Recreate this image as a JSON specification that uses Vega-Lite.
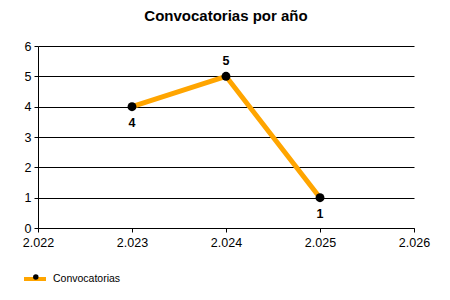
{
  "$schema": "https://vega.github.io/schema/vega-lite/v6.json",
  "width": 376,
  "height": 182,
  "autosize": {"type": "none"},
  "padding": {"left": 38, "top": 46, "right": 36, "bottom": 72},
  "background": "white",
  "title": {"text": "Convocatorias por año", "font": "Liberation Sans", "fontSize": 15, "fontWeight": "bold", "color": "black", "anchor": "middle", "offset": 16},
  "config": {"view": {"stroke": null}, "font": "Liberation Sans"},
  "data": {"values": [
    {"anio": 2023, "convocatorias": 4, "serie": "Convocatorias"},
    {"anio": 2024, "convocatorias": 5, "serie": "Convocatorias"},
    {"anio": 2025, "convocatorias": 1, "serie": "Convocatorias"}
  ]},
  "encoding": {
    "x": {"field": "anio", "type": "quantitative",
      "scale": {"domain": [2022, 2026], "nice": false, "zero": false},
      "axis": {"title": null, "values": [2022, 2023, 2024, 2025, 2026],
        "labelExpr": "replace(format(datum.value, ','), ',', '.')",
        "grid": false, "domainColor": "black", "tickColor": "black", "tickSize": 4,
        "labelColor": "black", "labelFontSize": 12.5, "labelPadding": 4, "labelFlush": false, "labelFont": "Liberation Sans"}},
    "y": {"field": "convocatorias", "type": "quantitative",
      "scale": {"domain": [0, 6], "nice": false},
      "axis": {"title": null, "values": [0, 1, 2, 3, 4, 5, 6],
        "grid": true, "gridColor": "black", "gridOpacity": 1, "domainColor": "black", "tickColor": "black", "tickSize": 4,
        "labelColor": "black", "labelFontSize": 12.5, "labelPadding": 3, "labelFont": "Liberation Sans"}}
  },
  "layer": [
    {
      "mark": {"type": "line", "strokeWidth": 5},
      "encoding": {
        "color": {"field": "serie", "type": "nominal", "scale": {"range": ["#FFA500"]},
          "legend": {"orient": "none", "legendX": -16, "legendY": 220, "title": null, "symbolType": "stroke",
            "symbolStrokeWidth": 4, "symbolSize": 484, "labelFontSize": 10.5, "labelColor": "black", "labelOffset": 5, "padding": 0, "labelFont": "Liberation Sans"}}
      }
    },
    {
      "mark": {"type": "circle", "size": 80, "opacity": 1},
      "encoding": {
        "fill": {"datum": "Convocatorias", "scale": {"range": ["black"]},
          "legend": {"orient": "none", "legendX": -7.7, "legendY": 225.5, "title": null, "symbolType": "circle",
            "symbolSize": 30, "symbolOpacity": 1, "labelExpr": "''", "labelFontSize": 11, "padding": 0}}
      }
    },
    {
      "transform": [{"filter": "datum.convocatorias == 5"}],
      "mark": {"type": "text", "dy": -15, "fontWeight": "bold", "fontSize": 12.5, "color": "black", "font": "Liberation Sans"},
      "encoding": {"text": {"field": "convocatorias", "type": "quantitative"}}
    },
    {
      "transform": [{"filter": "datum.convocatorias != 5"}],
      "mark": {"type": "text", "dy": 16.5, "fontWeight": "bold", "fontSize": 12.5, "color": "black", "font": "Liberation Sans"},
      "encoding": {"text": {"field": "convocatorias", "type": "quantitative"}}
    }
  ]
}
